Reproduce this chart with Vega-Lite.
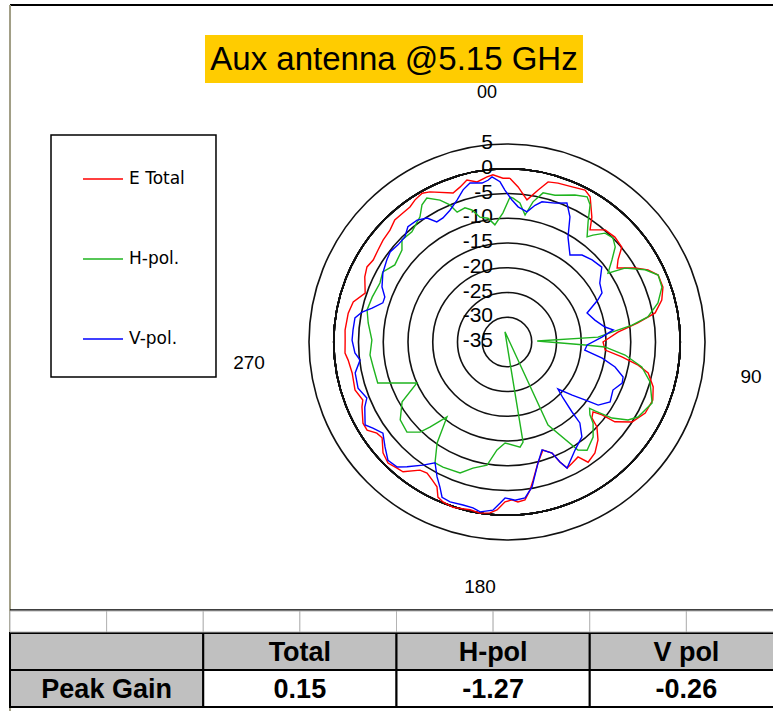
{
  "$schema": "https://vega.github.io/schema/vega-lite/v6.json",
  "width": 773,
  "height": 711,
  "padding": 0,
  "autosize": {"type": "none"},
  "background": "white",
  "config": {"view": {"stroke": null}},
  "datasets": {
    "one": [{"k": 1}],
    "pattern": [
      {"series":"E Total","angle":1.0,"value":-1.9},{"series":"E Total","angle":4.1,"value":-3.6},{"series":"E Total","angle":8.0,"value":-6.0},{"series":"E Total","angle":11.5,"value":-3.7},{"series":"E Total","angle":14.4,"value":-1.6},{"series":"E Total","angle":17.8,"value":-1.3},{"series":"E Total","angle":22.8,"value":-1.0},{"series":"E Total","angle":27.2,"value":-0.5},{"series":"E Total","angle":29.8,"value":-1.2},{"series":"E Total","angle":34.2,"value":-4.5},{"series":"E Total","angle":36.5,"value":-6.8},{"series":"E Total","angle":41.2,"value":-4.9},{"series":"E Total","angle":45.8,"value":-4.6},{"series":"E Total","angle":50.4,"value":-4.9},{"series":"E Total","angle":53.5,"value":-7.1},{"series":"E Total","angle":56.1,"value":-8.2},{"series":"E Total","angle":60.0,"value":-5.1},{"series":"E Total","angle":62.9,"value":-3.0},{"series":"E Total","angle":66.1,"value":-1.6},{"series":"E Total","angle":70.6,"value":-1.6},{"series":"E Total","angle":74.8,"value":-2.6},{"series":"E Total","angle":78.9,"value":-4.5},{"series":"E Total","angle":81.7,"value":-8.3},{"series":"E Total","angle":84.9,"value":-12.5},{"series":"E Total","angle":90.0,"value":-15.6},{"series":"E Total","angle":94.7,"value":-15.1},{"series":"E Total","angle":97.4,"value":-11.6},{"series":"E Total","angle":100.0,"value":-8.1},{"series":"E Total","angle":102.4,"value":-5.8},{"series":"E Total","angle":107.1,"value":-4.1},{"series":"E Total","angle":111.7,"value":-3.3},{"series":"E Total","angle":117.2,"value":-3.6},{"series":"E Total","angle":122.6,"value":-5.0},{"series":"E Total","angle":126.5,"value":-7.9},{"series":"E Total","angle":127.5,"value":-10.8},{"series":"E Total","angle":129.1,"value":-12.6},{"series":"E Total","angle":131.8,"value":-12.0},{"series":"E Total","angle":133.4,"value":-10.0},{"series":"E Total","angle":137.1,"value":-8.0},{"series":"E Total","angle":141.6,"value":-6.4},{"series":"E Total","angle":146.0,"value":-5.7},{"series":"E Total","angle":148.3,"value":-7.7},{"series":"E Total","angle":151.8,"value":-7.2},{"series":"E Total","angle":154.5,"value":-6.8},{"series":"E Total","angle":156.2,"value":-8.5},{"series":"E Total","angle":157.9,"value":-10.8},{"series":"E Total","angle":161.6,"value":-12.0},{"series":"E Total","angle":165.6,"value":-9.8},{"series":"E Total","angle":169.3,"value":-6.6},{"series":"E Total","angle":171.2,"value":-4.7},{"series":"E Total","angle":173.5,"value":-2.9},{"series":"E Total","angle":176.1,"value":-2.6},{"series":"E Total","angle":178.2,"value":-3.1},{"series":"E Total","angle":180.7,"value":-2.7},{"series":"E Total","angle":183.4,"value":-1.0},{"series":"E Total","angle":185.7,"value":-0.3},{"series":"E Total","angle":189.0,"value":0.0},{"series":"E Total","angle":192.4,"value":-0.3},{"series":"E Total","angle":198.1,"value":0.15},{"series":"E Total","angle":201.8,"value":-0.2},{"series":"E Total","angle":204.0,"value":-0.7},{"series":"E Total","angle":205.8,"value":-2.5},{"series":"E Total","angle":208.5,"value":-3.3},{"series":"E Total","angle":211.4,"value":-4.0},{"series":"E Total","angle":214.2,"value":-3.7},{"series":"E Total","angle":218.7,"value":-1.4},{"series":"E Total","angle":221.1,"value":-1.2},{"series":"E Total","angle":224.5,"value":-0.7},{"series":"E Total","angle":228.2,"value":-1.4},{"series":"E Total","angle":232.5,"value":-3.2},{"series":"E Total","angle":235.0,"value":-2.9},{"series":"E Total","angle":237.8,"value":-1.6},{"series":"E Total","angle":240.6,"value":-1.6},{"series":"E Total","angle":245.9,"value":-2.9},{"series":"E Total","angle":248.1,"value":-3.6},{"series":"E Total","angle":252.5,"value":-2.8},{"series":"E Total","angle":258.7,"value":-3.1},{"series":"E Total","angle":263.5,"value":-2.7},{"series":"E Total","angle":266.1,"value":-2.2},{"series":"E Total","angle":270.7,"value":-2.3},{"series":"E Total","angle":274.2,"value":-2.2},{"series":"E Total","angle":280.3,"value":-2.4},{"series":"E Total","angle":284.6,"value":-2.9},{"series":"E Total","angle":289.0,"value":-4.7},{"series":"E Total","angle":294.6,"value":-3.4},{"series":"E Total","angle":298.2,"value":-2.9},{"series":"E Total","angle":301.5,"value":-3.3},{"series":"E Total","angle":305.5,"value":-3.0},{"series":"E Total","angle":309.4,"value":-2.6},{"series":"E Total","angle":313.7,"value":-2.3},{"series":"E Total","angle":317.4,"value":-1.5},{"series":"E Total","angle":321.1,"value":-1.5},{"series":"E Total","angle":324.3,"value":-1.4},{"series":"E Total","angle":327.1,"value":-0.8},{"series":"E Total","angle":330.3,"value":-0.4},{"series":"E Total","angle":332.8,"value":-0.9},{"series":"E Total","angle":340.1,"value":-3.0},{"series":"E Total","angle":343.1,"value":-2.3},{"series":"E Total","angle":346.1,"value":-1.3},{"series":"E Total","angle":349.4,"value":-2.1},{"series":"E Total","angle":353.1,"value":-1.4},{"series":"E Total","angle":355.2,"value":-1.1},{"series":"E Total","angle":358.6,"value":-1.9},{"series":"E Total","angle":361.0,"value":-1.9},
      {"series":"H-pol.","angle":1.2,"value":-5.7},{"series":"H-pol.","angle":2.4,"value":-5.9},{"series":"H-pol.","angle":5.3,"value":-6.8},{"series":"H-pol.","angle":8.1,"value":-9.1},{"series":"H-pol.","angle":10.5,"value":-6.2},{"series":"H-pol.","angle":13.6,"value":-4.0},{"series":"H-pol.","angle":18.1,"value":-3.8},{"series":"H-pol.","angle":24.8,"value":-2.3},{"series":"H-pol.","angle":28.9,"value":-1.5},{"series":"H-pol.","angle":31.2,"value":-2.6},{"series":"H-pol.","angle":34.0,"value":-5.7},{"series":"H-pol.","angle":37.3,"value":-8.3},{"series":"H-pol.","angle":38.8,"value":-7.3},{"series":"H-pol.","angle":42.0,"value":-5.4},{"series":"H-pol.","angle":45.5,"value":-5.0},{"series":"H-pol.","angle":48.7,"value":-5.9},{"series":"H-pol.","angle":52.0,"value":-8.1},{"series":"H-pol.","angle":55.7,"value":-10.3},{"series":"H-pol.","angle":57.9,"value":-6.9},{"series":"H-pol.","angle":62.4,"value":-3.5},{"series":"H-pol.","angle":66.1,"value":-1.6},{"series":"H-pol.","angle":70.5,"value":-1.8},{"series":"H-pol.","angle":75.5,"value":-3.5},{"series":"H-pol.","angle":79.9,"value":-6.1},{"series":"H-pol.","angle":82.3,"value":-9.5},{"series":"H-pol.","angle":84.6,"value":-13.7},{"series":"H-pol.","angle":86.9,"value":-16.6},{"series":"H-pol.","angle":88.1,"value":-28.9},{"series":"H-pol.","angle":92.2,"value":-19.2},{"series":"H-pol.","angle":92.9,"value":-15.2},{"series":"H-pol.","angle":96.3,"value":-11.0},{"series":"H-pol.","angle":100.5,"value":-7.3},{"series":"H-pol.","angle":105.6,"value":-5.0},{"series":"H-pol.","angle":112.8,"value":-3.2},{"series":"H-pol.","angle":119.8,"value":-4.5},{"series":"H-pol.","angle":122.8,"value":-5.9},{"series":"H-pol.","angle":125.9,"value":-8.8},{"series":"H-pol.","angle":128.0,"value":-12.3},{"series":"H-pol.","angle":128.8,"value":-13.6},{"series":"H-pol.","angle":131.3,"value":-12.7},{"series":"H-pol.","angle":133.3,"value":-11.1},{"series":"H-pol.","angle":137.8,"value":-9.1},{"series":"H-pol.","angle":143.5,"value":-7.8},{"series":"H-pol.","angle":146.7,"value":-8.9},{"series":"H-pol.","angle":153.7,"value":-16.3},{"series":"H-pol.","angle":168.7,"value":-37.1},{"series":"H-pol.","angle":170.9,"value":-14.5},{"series":"H-pol.","angle":172.9,"value":-13.6},{"series":"H-pol.","angle":181.1,"value":-14.6},{"series":"H-pol.","angle":185.3,"value":-13.1},{"series":"H-pol.","angle":189.2,"value":-9.8},{"series":"H-pol.","angle":195.1,"value":-8.6},{"series":"H-pol.","angle":199.7,"value":-6.9},{"series":"H-pol.","angle":207.1,"value":-6.6},{"series":"H-pol.","angle":210.8,"value":-6.6},{"series":"H-pol.","angle":214.7,"value":-10.2},{"series":"H-pol.","angle":218.7,"value":-15.6},{"series":"H-pol.","angle":222.2,"value":-11.8},{"series":"H-pol.","angle":224.0,"value":-9.7},{"series":"H-pol.","angle":228.0,"value":-7.8},{"series":"H-pol.","angle":233.9,"value":-8.3},{"series":"H-pol.","angle":240.3,"value":-10.6},{"series":"H-pol.","angle":245.5,"value":-15.0},{"series":"H-pol.","angle":252.4,"value":-7.6},{"series":"H-pol.","angle":259.4,"value":-7.5},{"series":"H-pol.","angle":264.6,"value":-7.2},{"series":"H-pol.","angle":270.8,"value":-7.7},{"series":"H-pol.","angle":277.8,"value":-6.7},{"series":"H-pol.","angle":282.9,"value":-6.0},{"series":"H-pol.","angle":288.4,"value":-6.3},{"series":"H-pol.","angle":294.9,"value":-6.7},{"series":"H-pol.","angle":299.4,"value":-6.2},{"series":"H-pol.","angle":304.5,"value":-7.5},{"series":"H-pol.","angle":311.2,"value":-6.8},{"series":"H-pol.","angle":314.2,"value":-5.4},{"series":"H-pol.","angle":319.2,"value":-5.6},{"series":"H-pol.","angle":325.2,"value":-4.2},{"series":"H-pol.","angle":328.2,"value":-2.4},{"series":"H-pol.","angle":330.9,"value":-1.7},{"series":"H-pol.","angle":334.7,"value":-3.3},{"series":"H-pol.","angle":337.4,"value":-5.0},{"series":"H-pol.","angle":339.0,"value":-6.9},{"series":"H-pol.","angle":342.6,"value":-6.6},{"series":"H-pol.","angle":345.1,"value":-7.4},{"series":"H-pol.","angle":347.8,"value":-9.2},{"series":"H-pol.","angle":351.3,"value":-9.7},{"series":"H-pol.","angle":354.1,"value":-11.2},{"series":"H-pol.","angle":358.2,"value":-8.9},{"series":"H-pol.","angle":361.2,"value":-5.7},
      {"series":"V-pol.","angle":2.0,"value":-6.3},{"series":"V-pol.","angle":4.7,"value":-7.6},{"series":"V-pol.","angle":8.7,"value":-8.4},{"series":"V-pol.","angle":11.6,"value":-6.8},{"series":"V-pol.","angle":14.0,"value":-5.8},{"series":"V-pol.","angle":19.1,"value":-5.3},{"series":"V-pol.","angle":23.3,"value":-4.4},{"series":"V-pol.","angle":26.7,"value":-6.7},{"series":"V-pol.","angle":30.2,"value":-10.5},{"series":"V-pol.","angle":35.9,"value":-13.3},{"series":"V-pol.","angle":40.8,"value":-11.8},{"series":"V-pol.","angle":46.0,"value":-11.1},{"series":"V-pol.","angle":51.7,"value":-10.6},{"series":"V-pol.","angle":57.6,"value":-12.8},{"series":"V-pol.","angle":62.7,"value":-13.4},{"series":"V-pol.","angle":65.2,"value":-14.8},{"series":"V-pol.","angle":70.1,"value":-17.8},{"series":"V-pol.","angle":76.0,"value":-16.7},{"series":"V-pol.","angle":81.3,"value":-15.0},{"series":"V-pol.","angle":83.5,"value":-13.4},{"series":"V-pol.","angle":87.0,"value":-15.8},{"series":"V-pol.","angle":92.1,"value":-18.8},{"series":"V-pol.","angle":95.9,"value":-19.2},{"series":"V-pol.","angle":99.6,"value":-15.5},{"series":"V-pol.","angle":103.0,"value":-12.6},{"series":"V-pol.","angle":106.8,"value":-10.5},{"series":"V-pol.","angle":109.6,"value":-10.3},{"series":"V-pol.","angle":114.4,"value":-11.5},{"series":"V-pol.","angle":120.2,"value":-10.9},{"series":"V-pol.","angle":124.7,"value":-12.6},{"series":"V-pol.","angle":126.6,"value":-15.4},{"series":"V-pol.","angle":129.2,"value":-18.0},{"series":"V-pol.","angle":132.7,"value":-21.0},{"series":"V-pol.","angle":135.0,"value":-19.0},{"series":"V-pol.","angle":137.1,"value":-15.7},{"series":"V-pol.","angle":138.0,"value":-13.0},{"series":"V-pol.","angle":141.7,"value":-10.6},{"series":"V-pol.","angle":147.8,"value":-9.2},{"series":"V-pol.","angle":154.5,"value":-6.8},{"series":"V-pol.","angle":156.2,"value":-8.5},{"series":"V-pol.","angle":157.9,"value":-10.8},{"series":"V-pol.","angle":162.0,"value":-12.1},{"series":"V-pol.","angle":165.6,"value":-9.8},{"series":"V-pol.","angle":170.2,"value":-5.3},{"series":"V-pol.","angle":173.4,"value":-3.3},{"series":"V-pol.","angle":177.1,"value":-3.0},{"series":"V-pol.","angle":180.7,"value":-3.5},{"series":"V-pol.","angle":182.5,"value":-2.4},{"series":"V-pol.","angle":184.8,"value":-0.9},{"series":"V-pol.","angle":189.0,"value":-0.26},{"series":"V-pol.","angle":191.6,"value":-0.8},{"series":"V-pol.","angle":195.1,"value":-0.9},{"series":"V-pol.","angle":199.6,"value":-0.7},{"series":"V-pol.","angle":202.7,"value":-1.0},{"series":"V-pol.","angle":204.8,"value":-2.7},{"series":"V-pol.","angle":207.4,"value":-4.3},{"series":"V-pol.","angle":210.8,"value":-6.6},{"series":"V-pol.","angle":214.3,"value":-4.9},{"series":"V-pol.","angle":218.7,"value":-2.7},{"series":"V-pol.","angle":221.3,"value":-1.4},{"series":"V-pol.","angle":225.2,"value":-1.1},{"series":"V-pol.","angle":229.3,"value":-2.5},{"series":"V-pol.","angle":233.7,"value":-3.9},{"series":"V-pol.","angle":237.3,"value":-2.8},{"series":"V-pol.","angle":239.7,"value":-1.8},{"series":"V-pol.","angle":245.4,"value":-3.4},{"series":"V-pol.","angle":248.2,"value":-4.5},{"series":"V-pol.","angle":252.8,"value":-3.5},{"series":"V-pol.","angle":258.5,"value":-3.7},{"series":"V-pol.","angle":263.0,"value":-5.1},{"series":"V-pol.","angle":265.9,"value":-4.2},{"series":"V-pol.","angle":270.7,"value":-3.7},{"series":"V-pol.","angle":274.5,"value":-3.8},{"series":"V-pol.","angle":279.0,"value":-3.9},{"series":"V-pol.","angle":281.7,"value":-5.1},{"series":"V-pol.","angle":284.1,"value":-6.9},{"series":"V-pol.","angle":287.5,"value":-8.7},{"series":"V-pol.","angle":290.2,"value":-8.7},{"series":"V-pol.","angle":293.8,"value":-7.4},{"series":"V-pol.","angle":299.1,"value":-6.3},{"series":"V-pol.","angle":304.3,"value":-5.6},{"series":"V-pol.","angle":307.6,"value":-5.2},{"series":"V-pol.","angle":311.7,"value":-5.5},{"series":"V-pol.","angle":315.8,"value":-5.4},{"series":"V-pol.","angle":319.3,"value":-4.3},{"series":"V-pol.","angle":323.6,"value":-4.4},{"series":"V-pol.","angle":327.2,"value":-5.2},{"series":"V-pol.","angle":329.7,"value":-6.9},{"series":"V-pol.","angle":332.7,"value":-6.8},{"series":"V-pol.","angle":336.6,"value":-6.0},{"series":"V-pol.","angle":340.6,"value":-4.6},{"series":"V-pol.","angle":343.9,"value":-3.0},{"series":"V-pol.","angle":346.9,"value":-2.0},{"series":"V-pol.","angle":351.1,"value":-2.5},{"series":"V-pol.","angle":353.3,"value":-2.1},{"series":"V-pol.","angle":354.8,"value":-1.5},{"series":"V-pol.","angle":357.5,"value":-2.6},{"series":"V-pol.","angle":359.2,"value":-4.3},{"series":"V-pol.","angle":362.0,"value":-6.3}
    ],
    "rings": [{"ring":5},{"ring":0},{"ring":-5},{"ring":-10},{"ring":-15},{"ring":-20},{"ring":-25},{"ring":-30},{"ring":-35}],
    "table": [
      {"col":"c0","row":"header","text":""},
      {"col":"Total","row":"header","text":"Total"},
      {"col":"H-pol","row":"header","text":"H-pol"},
      {"col":"V pol","row":"header","text":"V pol"},
      {"col":"c0","row":"peak","text":"Peak Gain"},
      {"col":"Total","row":"peak","text":"0.15"},
      {"col":"H-pol","row":"peak","text":"-1.27"},
      {"col":"V pol","row":"peak","text":"-0.26"}
    ],
    "blank": [{"c":1},{"c":2},{"c":3},{"c":4},{"c":5},{"c":6},{"c":7},{"c":8}]
  },
  "layer": [
    {
      "layer": [
        {
          "data": {"name": "one"},
          "mark": {"type": "rule", "stroke": "#000000", "strokeWidth": 2},
          "encoding": {
            "x": {"datum": -100.4, "type": "quantitative", "scale": {"domain": [-102.424, 53.737], "nice": false, "zero": false}, "axis": null},
            "x2": {"datum": 53.737},
            "y": {"datum": 68.08, "type": "quantitative", "scale": {"domain": [-74.545, 69.091], "nice": false, "zero": false}, "axis": null}
          }
        },
        {
          "data": {"name": "one"},
          "mark": {"type": "rule", "stroke": "#a19e86", "strokeWidth": 2},
          "encoding": {
            "x": {"datum": -100.4, "type": "quantitative"},
            "y": {"datum": 68.08, "type": "quantitative"},
            "y2": {"datum": -74.545}
          }
        },
        {
          "data": {"name": "one"},
          "mark": {"type": "rule", "stroke": "#000000", "strokeWidth": 1.5},
          "encoding": {
            "x": {"datum": -100.4, "type": "quantitative"},
            "x2": {"datum": 53.737},
            "y": {"datum": -54.14, "type": "quantitative"}
          }
        },
        {
          "data": {"name": "one"},
          "mark": {"type": "rect", "fill": "#ffcc00"},
          "encoding": {
            "x": {"datum": -61.01, "type": "quantitative"},
            "x2": {"datum": 15.35},
            "y": {"datum": 62.02, "type": "quantitative"},
            "y2": {"datum": 52.32}
          }
        },
        {
          "data": {"name": "one"},
          "mark": {"type": "text", "text": "Aux antenna @5.15 GHz", "font": "Liberation Sans", "fontSize": 33, "align": "center", "baseline": "middle", "color": "#000000"},
          "encoding": {
            "x": {"datum": -22.83, "type": "quantitative"},
            "y": {"datum": 56.9, "type": "quantitative"}
          }
        },
        {
          "data": {"name": "one"},
          "mark": {"type": "rect", "fill": "white", "stroke": "#000000", "strokeWidth": 1.5},
          "encoding": {
            "x": {"datum": -92.12, "type": "quantitative"},
            "x2": {"datum": -58.79},
            "y": {"datum": 41.82, "type": "quantitative"},
            "y2": {"datum": -7.07}
          }
        },
        {
          "data": {"name": "rings"},
          "mark": {"type": "arc", "theta": 0, "theta2": 6.2832, "filled": false, "stroke": "#111111", "strokeWidth": 1.6},
          "encoding": {
            "x": {"datum": 0, "type": "quantitative"},
            "y": {"datum": 0, "type": "quantitative"},
            "radius": {"field": "ring", "type": "quantitative", "stack": null, "scale": {"type": "linear", "domain": [-35, 5], "range": [0, 198], "zero": false}}
          }
        },
        {
          "data": {"name": "rings"},
          "transform": [{"calculate": "datum.ring + 35", "as": "u"}],
          "mark": {"type": "text", "font": "Liberation Sans", "fontSize": 21, "align": "right", "baseline": "middle", "dx": -14, "dy": -1, "color": "#000000"},
          "encoding": {
            "x": {"datum": 0, "type": "quantitative"},
            "y": {"field": "u", "type": "quantitative"},
            "text": {"field": "ring", "type": "nominal"}
          }
        },
        {
          "data": {"name": "one"},
          "mark": {"type": "text", "text": "00", "font": "Liberation Sans", "fontSize": 18, "align": "center", "baseline": "middle", "color": "#000000"},
          "encoding": {"x": {"datum": -4.04, "type": "quantitative"}, "y": {"datum": 50.3, "type": "quantitative"}}
        },
        {
          "data": {"name": "one"},
          "mark": {"type": "text", "text": "90", "font": "Liberation Sans", "fontSize": 19, "align": "center", "baseline": "middle", "color": "#000000"},
          "encoding": {"x": {"datum": 49.29, "type": "quantitative"}, "y": {"datum": -7.07, "type": "quantitative"}}
        },
        {
          "data": {"name": "one"},
          "mark": {"type": "text", "text": "180", "font": "Liberation Sans", "fontSize": 19, "align": "center", "baseline": "middle", "color": "#000000"},
          "encoding": {"x": {"datum": -5.45, "type": "quantitative"}, "y": {"datum": -49.49, "type": "quantitative"}}
        },
        {
          "data": {"name": "one"},
          "mark": {"type": "text", "text": "270", "font": "Liberation Sans", "fontSize": 19, "align": "center", "baseline": "middle", "color": "#000000"},
          "encoding": {"x": {"datum": -52.12, "type": "quantitative"}, "y": {"datum": -4.24, "type": "quantitative"}}
        },
        {
          "data": {"name": "pattern"},
          "transform": [
            {"calculate": "datum.value + 35", "as": "r"},
            {"calculate": "datum.r * sin(datum.angle * PI / 180)", "as": "px"},
            {"calculate": "datum.r * cos(datum.angle * PI / 180)", "as": "py"}
          ],
          "mark": {"type": "line", "strokeWidth": 1.4, "interpolate": "linear"},
          "encoding": {
            "x": {"field": "px", "type": "quantitative"},
            "y": {"field": "py", "type": "quantitative"},
            "order": {"field": "angle", "type": "quantitative"},
            "color": {
              "field": "series", "type": "nominal",
              "scale": {"domain": ["E Total", "H-pol.", "V-pol."], "range": ["#ff0000", "#1fb41f", "#0000ff"]},
              "legend": {
                "orient": "none", "legendX": 82, "legendY": 158, "title": null,
                "symbolType": "stroke", "symbolSize": 1600, "symbolStrokeWidth": 1.5,
                "labelFont": "DejaVu Sans", "labelFontSize": 17, "labelColor": "#000000",
                "labelOffset": 5, "rowPadding": 51, "padding": 0
              }
            }
          }
        }
      ]
    },
    {
      "data": {"name": "table"},
      "layer": [
        {
          "mark": {"type": "rect", "stroke": "#000000", "strokeWidth": 2},
          "encoding": {
            "x": {"field": "col", "type": "nominal", "scale": {"type": "band", "domain": ["c0", "Total", "H-pol", "V pol"], "range": [10, 783], "paddingInner": 0, "paddingOuter": 0}, "axis": null},
            "y": {"field": "row", "type": "nominal", "scale": {"type": "band", "domain": ["header", "peak"], "range": [633, 707], "paddingInner": 0, "paddingOuter": 0}, "axis": null},
            "fill": {"condition": {"test": "datum.row === 'header' || datum.col === 'c0'", "value": "#c0c0c0"}, "value": "#ffffff"}
          }
        },
        {
          "mark": {"type": "text", "font": "Liberation Sans", "fontWeight": "bold", "fontSize": 27, "align": "center", "baseline": "middle", "dy": 1, "color": "#000000"},
          "encoding": {
            "x": {"field": "col", "type": "nominal"},
            "y": {"field": "row", "type": "nominal"},
            "text": {"field": "text", "type": "nominal"}
          }
        }
      ]
    },
    {
      "data": {"name": "blank"},
      "mark": {"type": "rect", "fill": "#ffffff", "stroke": "#b4b4b4", "strokeWidth": 1},
      "encoding": {
        "x": {"field": "c", "type": "ordinal", "scale": {"type": "band", "domain": [1, 2, 3, 4, 5, 6, 7, 8], "range": [10, 783], "paddingInner": 0, "paddingOuter": 0}, "axis": null},
        "y": {"datum": "blank", "type": "nominal", "scale": {"type": "band", "domain": ["blank"], "range": [611, 632], "paddingInner": 0, "paddingOuter": 0}, "axis": null}
      }
    }
  ],
  "resolve": {"scale": {"x": "independent", "y": "independent"}}
}
